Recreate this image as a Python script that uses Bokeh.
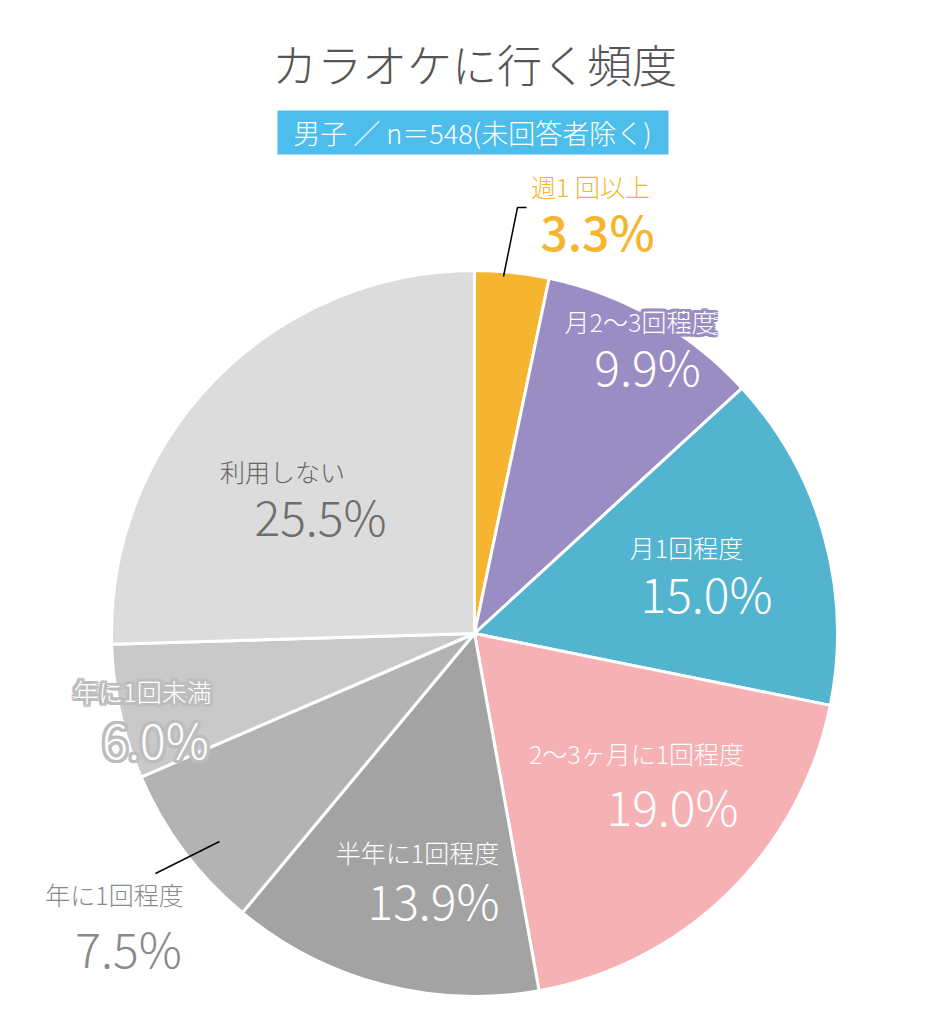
import math
from bokeh.plotting import figure
from bokeh.models import Range1d, ColumnDataSource
from bokeh.core.properties import value
from bokeh.embed import file_html
from bokeh.resources import INLINE

# ---- data ----
categories = ["週1 回以上", "月2〜3回程度", "月1回程度", "2〜3ヶ月に1回程度",
              "半年に1回程度", "年に1回程度", "年に1回未満", "利用しない"]
percents = [3.3, 9.9, 15.0, 19.0, 13.9, 7.5, 6.0, 25.5]
pct_labels = ["3.3%", "9.9%", "15.0%", "19.0%", "13.9%", "7.5%", "6.0%", "25.5%"]
title_text = "カラオケに行く頻度"
subtitle_text = "男子 ／ n＝548(未回答者除く)"

# ---- styles ----
colors = ["#F5B52E", "#9A8DC3", "#52B4CE", "#F5B1B3", "#A3A3A3", "#B3B3B3", "#C9C9C9", "#DCDCDC"]
FONT_M = value("Noto Sans CJK JP Medium, Noto Sans CJK JP")
FONT_L = value("Noto Sans CJK JP Light, Noto Sans CJK JP")

W, H = 930, 1008

p = figure(width=W, height=H, output_backend="svg", toolbar_location=None,
           x_range=Range1d(0, W), y_range=Range1d(0, H), min_border=0)
p.axis.visible = False
p.grid.visible = False
p.outline_line_color = None
p.background_fill_color = "white"


def ty(y_img):
    # screenshot y -> data y
    return H - y_img


# pie
cx, cy, r = 474, 633, 363
total = sum(percents)
starts, ends = [], []
a = math.pi / 2
for v in percents:
    e = a - v / total * 2 * math.pi
    starts.append(e)
    ends.append(a)
    a = e
src = ColumnDataSource(dict(start=starts, end=ends, color=colors))
p.wedge(x=cx, y=ty(cy), radius=r, start_angle="start", end_angle="end",
        fill_color="color", line_color="white", line_width=3, source=src)

# title
p.text(x=[474], y=[ty(63)], text=[title_text], text_font=FONT_L, text_font_size="45px",
       text_color="#555555", text_align="center", text_baseline="middle")
# subtitle box
p.quad(left=[277], right=[668], top=[ty(110)], bottom=[ty(154)], fill_color="#4DBDEC", line_color=None)
p.text(x=[472], y=[ty(132)], text=[subtitle_text], text_font=FONT_L, text_font_size="27px",
       text_color="white", text_align="center", text_baseline="middle")

# label positions (screen px) and styles
lab_pos = [(590, 185), (640, 320), (686, 546), (636, 752), (417, 851), (114, 893), (142, 690), (282, 470)]
pct_pos = [(597, 229), (647, 364), (706, 591), (672, 804), (433, 898), (128, 946), (155, 737), (320, 514)]
lab_col = ["#F5B52E", "white", "white", "white", "white", "#8A8A8A", "white", "#666666"]
pct_col = ["#F5B52E", "white", "white", "white", "white", "#8A8A8A", "white", "#6E6E6E"]
halo = [None, "#9A8DC3", None, None, None, None, "#BDBDBD", None]

offs = [(dx, dy) for dx in (-3, -2, 0, 2, 3) for dy in (-3, -2, 0, 2, 3)
        if (dx, dy) != (0, 0) and dx * dx + dy * dy <= 13]

for i in range(len(categories)):
    items = [(lab_pos[i], categories[i], "25px", lab_col[i], FONT_L),
             (pct_pos[i], pct_labels[i], "48px", pct_col[i], FONT_M if i == 0 else FONT_L)]
    for (px, py), txt, fs, col, fnt in items:
        if halo[i]:
            p.text(x=[px + dx for dx, dy in offs], y=[ty(py) + dy for dx, dy in offs],
                   text=[txt] * len(offs), text_font=fnt, text_font_size=fs,
                   text_color=halo[i], text_align="center", text_baseline="middle")
        p.text(x=[px], y=[ty(py)], text=[txt], text_font=fnt, text_font_size=fs,
               text_color=col, text_align="center", text_baseline="middle")

# leader lines
p.line(x=[503, 517, 526], y=[ty(276), ty(207), ty(207)], line_color="black", line_width=1.5)
p.line(x=[155, 219], y=[ty(873), ty(841)], line_color="black", line_width=1.5)

open("out.html", "w").write(file_html(p, INLINE))
